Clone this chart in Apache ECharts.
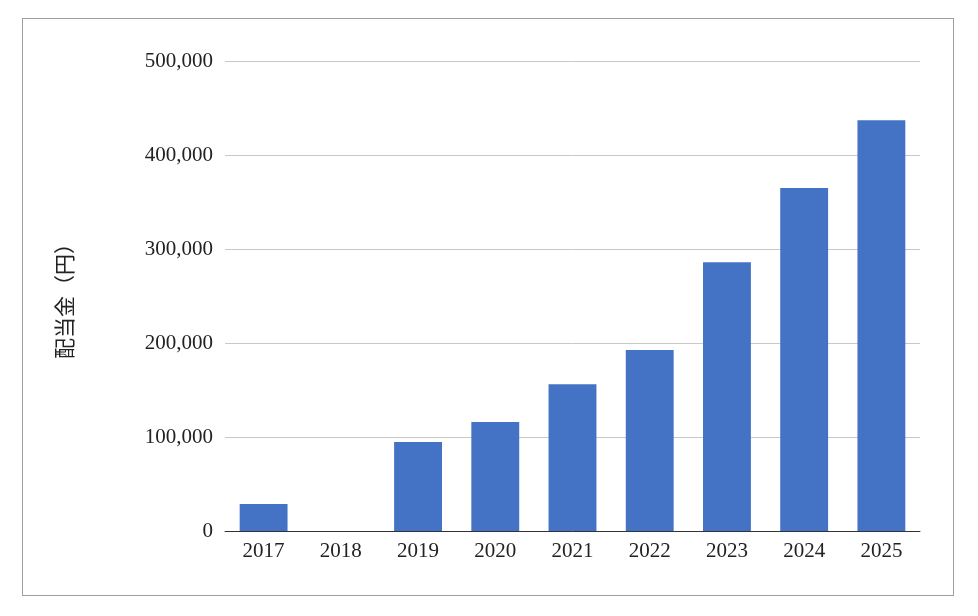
<!DOCTYPE html>
<html><head><meta charset="utf-8">
<script src="https://cdn.jsdelivr.net/npm/echarts@6/dist/echarts.min.js"></script>
<style>html,body{margin:0;padding:0;background:#fff}
#frame{position:absolute;left:22px;top:18px;width:932px;height:578px;border:1px solid #9e9e9e;box-sizing:border-box}
#c{width:978px;height:616px}</style></head>
<body><div id="frame"></div><div id="c"></div>
<script>
const years = ['2017','2018','2019','2020','2021','2022','2023','2024','2025'];
const dividends = [28700, 0, 94700, 116000, 156000, 192500, 286000, 365000, 437000];
const chart = echarts.init(document.getElementById('c'));
const font = 'Liberation Serif, serif';
chart.setOption({
  animation:false,
  grid:{left:225,right:58,top:61,bottom:85},
  xAxis:{type:'category',data:years,axisTick:{show:false},
    axisLine:{lineStyle:{color:'#333',width:1}},
    axisLabel:{color:'#222',fontSize:21,fontFamily:font,margin:10}},
  yAxis:{type:'value',min:0,max:500000,interval:100000,
    name:'配当金（円）',nameLocation:'middle',nameGap:150,nameRotate:90,
    nameTextStyle:{color:'#222',fontSize:21,fontFamily:'Noto Sans CJK JP'},
    axisLabel:{color:'#222',fontSize:21,fontFamily:font,margin:12,
      formatter:v=>v.toLocaleString('en-US')},
    splitLine:{lineStyle:{color:'#c8c8c8'}}},
  series:[{type:'bar',data:dividends,barWidth:'62%',itemStyle:{color:'#4472c4'}}]
});
</script></body></html>
